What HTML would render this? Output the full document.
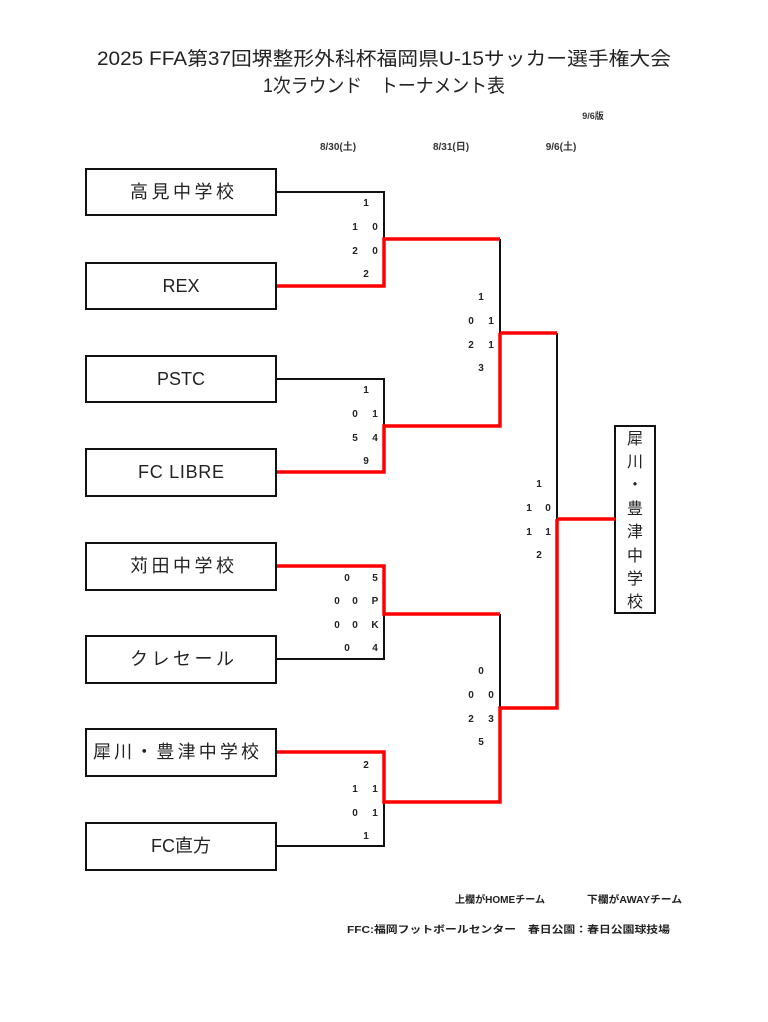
<!DOCTYPE html>
<html><head><meta charset="utf-8"><style>
html,body{margin:0;padding:0;background:#fff;}
svg{display:block;}
text{font-family:"Liberation Sans","Noto Sans CJK JP",sans-serif;fill:#222;}
.n{font-size:18px;text-anchor:middle;}
.s{font-size:10px;text-anchor:middle;font-weight:bold;fill:#333;}
</style></head><body>
<svg width="768" height="1022" viewBox="0 0 768 1022" xmlns="http://www.w3.org/2000/svg">
<text x="384" y="65" style="font-size:19px" text-anchor="middle" textLength="574" lengthAdjust="spacingAndGlyphs">2025 FFA第37回堺整形外科杯福岡県U-15サッカー選手権大会</text>
<text x="384" y="92" style="font-size:19px" text-anchor="middle" textLength="242" lengthAdjust="spacingAndGlyphs">1次ラウンド　トーナメント表</text>
<text x="593" y="119" class="s" style="font-size:9px">9/6版</text>
<text x="338" y="150" class="s">8/30(土)</text>
<text x="451" y="150" class="s">8/31(日)</text>
<text x="561" y="150" class="s">9/6(土)</text>

<g fill="#fff" stroke="#111" stroke-width="2">
<rect x="86" y="169" width="190" height="46"/>
<rect x="86" y="263" width="190" height="46"/>
<rect x="86" y="356" width="190" height="46"/>
<rect x="86" y="449" width="190" height="47"/>
<rect x="86" y="543" width="190" height="47"/>
<rect x="86" y="636" width="190" height="47"/>
<rect x="86" y="729" width="190" height="47"/>
<rect x="86" y="823" width="190" height="47"/>
<rect x="615" y="426" width="40" height="187"/>
</g>
<text x="182" y="198" class="n" textLength="104">高見中学校</text>
<text x="181" y="292" class="n">REX</text>
<text x="181" y="385" class="n">PSTC</text>
<text x="181" y="478" class="n" textLength="86">FC LIBRE</text>
<text x="182" y="572" class="n" textLength="104">苅田中学校</text>
<text x="182" y="665" class="n" textLength="104">クレセール</text>
<text x="176" y="758" class="n" textLength="166">犀川・豊津中学校</text>
<text x="181" y="852" class="n">FC直方</text>
<g class="n" style="font-size:16px">
<text x="635" y="444">犀</text><text x="635" y="467">川</text><text x="635" y="490">・</text>
<text x="635" y="514">豊</text><text x="635" y="537">津</text><text x="635" y="561">中</text>
<text x="635" y="584">学</text><text x="635" y="607">校</text>
</g>

<g fill="none" stroke="#111" stroke-width="2">
<polyline points="277,192 384,192 384,239"/>
<polyline points="277,379 384,379 384,426"/>
<polyline points="500,239 500,333"/>
<polyline points="557,333 557,519"/>
<polyline points="277,659 384,659 384,614"/>
<polyline points="277,846 384,846 384,802"/>
<polyline points="500,614 500,708"/>
</g>
<g fill="none" stroke="#f00" stroke-width="3.5">
<polyline points="277,286 384,286 384,239 500,239"/>
<polyline points="500,333 557,333"/>
<polyline points="277,472 384,472 384,426 500,426 500,333"/>
<polyline points="557,519 615,519"/>
<polyline points="277,566 384,566 384,614 500,614"/>
<polyline points="277,752 384,752 384,802 500,802 500,708 557,708 557,519"/>
</g>

<g class="s">
<text x="366" y="206">1</text>
<text x="355" y="230">1</text><text x="375" y="230">0</text>
<text x="355" y="254">2</text><text x="375" y="254">0</text>
<text x="366" y="277">2</text>

<text x="366" y="393">1</text>
<text x="355" y="417">0</text><text x="375" y="417">1</text>
<text x="355" y="441">5</text><text x="375" y="441">4</text>
<text x="366" y="464">9</text>

<text x="481" y="300">1</text>
<text x="471" y="324">0</text><text x="491" y="324">1</text>
<text x="471" y="348">2</text><text x="491" y="348">1</text>
<text x="481" y="371">3</text>

<text x="539" y="487">1</text>
<text x="529" y="511">1</text><text x="548" y="511">0</text>
<text x="529" y="535">1</text><text x="548" y="535">1</text>
<text x="539" y="558">2</text>

<text x="347" y="581">0</text><text x="375" y="581">5</text>
<text x="337" y="604">0</text><text x="355" y="604">0</text><text x="375" y="604">P</text>
<text x="337" y="628">0</text><text x="355" y="628">0</text><text x="375" y="628">K</text>
<text x="347" y="651">0</text><text x="375" y="651">4</text>

<text x="481" y="674">0</text>
<text x="471" y="698">0</text><text x="491" y="698">0</text>
<text x="471" y="722">2</text><text x="491" y="722">3</text>
<text x="481" y="745">5</text>

<text x="366" y="768">2</text>
<text x="355" y="792">1</text><text x="375" y="792">1</text>
<text x="355" y="816">0</text><text x="375" y="816">1</text>
<text x="366" y="839">1</text>
</g>

<text x="455" y="903" style="font-size:10px;font-weight:bold" textLength="90" lengthAdjust="spacingAndGlyphs">上欄がHOMEチーム</text>
<text x="587" y="903" style="font-size:10px;font-weight:bold" textLength="95" lengthAdjust="spacingAndGlyphs">下欄がAWAYチーム</text>
<text x="347" y="933" style="font-size:10px;font-weight:bold" textLength="323" lengthAdjust="spacingAndGlyphs">FFC:福岡フットボールセンター　春日公園：春日公園球技場</text>
</svg>
</body></html>
